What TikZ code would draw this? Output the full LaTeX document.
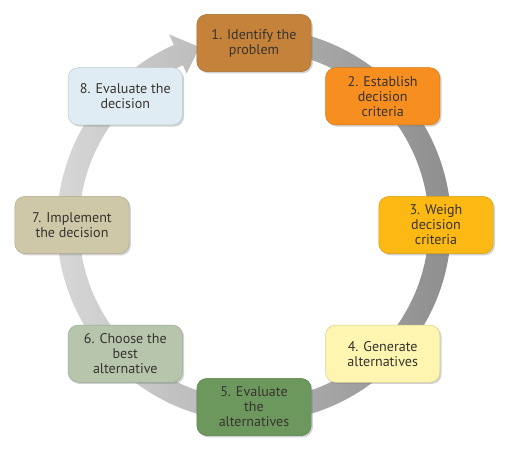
\documentclass[tikz,border=0pt]{standalone}
\usepackage{fontspec}
\setmainfont{PT Sans}
\usetikzlibrary{shapes.geometric, positioning, shadows, calc}
\definecolor{stepone}{RGB}{196,130,58}
\definecolor{steptwo}{RGB}{246,142,32}
\definecolor{stepthree}{RGB}{253,185,19}
\definecolor{stepfour}{RGB}{253,245,176}
\definecolor{stepfive}{RGB}{108,152,94}
\definecolor{stepsix}{RGB}{182,197,172}
\definecolor{stepseven}{RGB}{206,200,168}
\definecolor{stepeight}{RGB}{224,236,243}
\definecolor{textgray}{RGB}{56,52,48}

\begin{document}
\begin{tikzpicture}[
    stage/.style={rectangle, rounded corners=0.35cm, minimum width=4cm, minimum height=2cm, align=center, draw=#1!85!black, fill=#1, line width=0.5pt, text=textgray, font=\fontsize{14}{15}\selectfont, drop shadow={opacity=0.35, shadow xshift=0.06cm, shadow yshift=-0.06cm}}
]
\useasboundingbox (-8.89,-7.875) rectangle (8.89,7.875);
\fill[white] (-8.89,-7.875) rectangle (8.89,7.875);

% Cycle band with arrow head
\shade[left color=gray!30, right color=gray!90]
    (85:6.9) arc[start angle=85, end angle=-246, radius=6.9]
    -- (-246:7.3) -- (-253:6.51) -- (-246:5.8) -- (-246:6.12)
    arc[start angle=-246, end angle=85, radius=6.12] -- cycle;

% Steps
\node (identify) [stage=stepone] at (90:6.37) {1. Identify the\\problem};
\node (criteria) [stage=steptwo] at (45:6.37) {2. Establish\\decision\\criteria};
\node (weigh) [stage=stepthree] at (0:6.37) {3. Weigh\\decision\\criteria};
\node (generate) [stage=stepfour] at (-45:6.37) {4. Generate\\alternatives};
\node (evaluate) [stage=stepfive] at (-90:6.37) {5. Evaluate\\the\\alternatives};
\node (choose) [stage=stepsix] at (-135:6.37) {6. Choose the\\best\\alternative};
\node (implement) [stage=stepseven] at (180:6.37) {7. Implement\\the decision};
\node (review) [stage=stepeight] at (135:6.37) {8. Evaluate the\\decision};

\end{tikzpicture}
\end{document}
